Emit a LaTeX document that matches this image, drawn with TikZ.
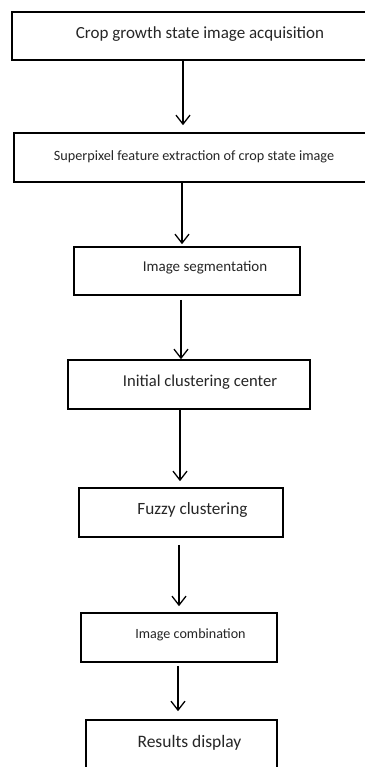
\documentclass[tikz,border=0pt]{standalone}
\usepackage{fontspec}
\setmainfont{Carlito}
\usetikzlibrary{arrows.meta, positioning}

\begin{document}
\begin{tikzpicture}[
    x=1pt, y=-1pt,
    % --- Process Boxes ---
    stepbox/.style={
        draw=black,
        fill=white,
        line width=1.6pt,
        inner sep=0pt
    },
    % --- Box Texts ---
    step text/.style={
        text=black!85,
        inner sep=0pt,
        anchor=center
    },
    % --- Flow Arrows ---
    flow arrow/.style={
        -{Straight Barb[length=9pt, width=14pt, line width=1.3pt]},
        line width=1.3pt,
        color=black
    }
]
    \useasboundingbox (0,0) rectangle (364,767);

    % =========================================
    % 1. PROCESS BOXES
    % =========================================

    \node[stepbox, minimum width=358pt, minimum height=48pt] (acquire) at (191,36) {};
    \node[step text, font=\fontsize{17}{20}\selectfont] (acquireT) at (200,34) {Crop growth state image acquisition};

    \node[stepbox, minimum width=356pt, minimum height=49pt] (superpixel) at (192,157.5) {};
    \node[step text, font=\fontsize{14.2}{17}\selectfont] (superpixelT) at (194,157) {Superpixel feature extraction of crop state image};

    \node[stepbox, minimum width=226pt, minimum height=48pt] (segment) at (187,271) {};
    \node[step text, font=\fontsize{15}{18}\selectfont] (segmentT) at (205,268) {Image segmentation};

    \node[stepbox, minimum width=242pt, minimum height=49pt] (initial) at (189,384.5) {};
    \node[step text, font=\fontsize{16.6}{19}\selectfont] (initialT) at (200,382) {Initial clustering center};

    \node[stepbox, minimum width=204pt, minimum height=49pt] (fuzzy) at (181,512.5) {};
    \node[step text, font=\fontsize{17.2}{20}\selectfont] (fuzzyT) at (192.5,510) {Fuzzy clustering};

    \node[stepbox, minimum width=196pt, minimum height=49pt] (combine) at (179,637.5) {};
    \node[step text, font=\fontsize{14.1}{17}\selectfont] (combineT) at (190.5,635) {Image combination};

    \node[stepbox, minimum width=191pt, minimum height=50pt] (display) at (181.5,745) {};
    \node[step text, font=\fontsize{17.5}{20}\selectfont] (displayT) at (189.5,743) {Results display};

    % =========================================
    % 2. FLOW ARROWS
    % =========================================

    \draw[flow arrow, shorten >=7pt] (acquire.south -| 183,0) -- (superpixel.north -| 183,0);
    \draw[flow arrow, shorten >=2pt] (superpixel.south -| 182,0) -- (segment.north -| 182,0);
    \draw[flow arrow, shorten <=4pt] (segment.south -| 181,0) -- (initial.north -| 181,0);
    \draw[flow arrow, shorten >=6pt] (initial.south -| 180,0) -- (fuzzy.north -| 180,0);
    \draw[flow arrow, shorten <=7pt, shorten >=6pt] (fuzzy.south -| 179,0) -- (combine.north -| 179,0);
    \draw[flow arrow, shorten <=3pt, shorten >=8pt] (combine.south -| 178,0) -- (display.north -| 178,0);

\end{tikzpicture}
\end{document}
